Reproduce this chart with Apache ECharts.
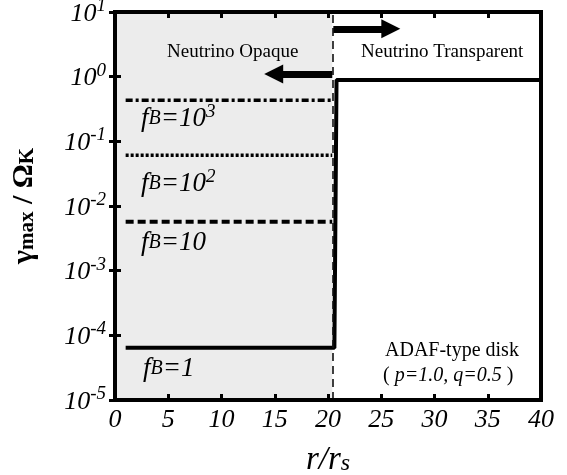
<!DOCTYPE html>
<html><head><meta charset="utf-8">
<script src="https://cdn.jsdelivr.net/npm/echarts@6/dist/echarts.min.js"></script>
<style>html,body{margin:0;padding:0;background:#fff}#c{width:567px;height:475px}</style>
</head><body><div id="c"></div>
<script>
// ---- data ----
const xTicks = [0, 5, 10, 15, 20, 25, 30, 35, 40];
const yExponents = [-5, -4, -3, -2, -1, 0, 1];
const fB1 = [[1.0, 6.4e-5], [20.6, 6.4e-5], [20.8, 0.89], [40, 0.89]];
const fB10 = [[1.0, 0.0057], [20.4, 0.0057]];
const fB100 = [[1.0, 0.061], [20.4, 0.061]];
const fB1000 = [[1.0, 0.43], [20.4, 0.43]];
const boundaryR = 20.4;
const arrowRight = [[20.5, 5.5], [25.9, 5.5]];
const arrowLeft = [[20.4, 1.1], [14.9, 1.1]];

const chart = echarts.init(document.getElementById('c'), null, {renderer: 'canvas'});
const serif = 'Liberation Serif';
const yLabel = v => { const e = Math.round(Math.log10(v)); return yExponents.includes(e) ? '{b|10}{s|' + e + '}' : ''; };
const yRich = {
  b: {fontFamily: serif, fontStyle: 'italic', fontSize: 26, color: '#000', padding: [4, 0, 0, 0]},
  s: {fontFamily: serif, fontStyle: 'italic', fontSize: 19, color: '#000', padding: [0, 0, 12, 0]}
};
const fbRich = {
  f: {fontFamily: serif, fontStyle: 'italic', fontSize: 27, color: '#000'},
  B: {fontFamily: serif, fontStyle: 'italic', fontSize: 20, color: '#000'},
  e: {fontFamily: serif, fontStyle: 'italic', fontSize: 27, color: '#000'},
  s: {fontFamily: serif, fontStyle: 'italic', fontSize: 19, color: '#000', padding: [0, 0, 14, 0]}
};
const frameAxis = {
  axisLine: {show: true, lineStyle: {color: '#000', width: 4}},
  axisTick: {inside: true, length: 6, lineStyle: {color: '#000', width: 3}},
  splitLine: {show: false}, z: 10
};

chart.setOption({
  animation: false,
  grid: {left: 115, right: 26, top: 12, bottom: 75, containLabel: false, outerBoundsMode: 'none',
    show: true, borderColor: '#000', borderWidth: 4, backgroundColor: 'transparent', z: 10},
  xAxis: [Object.assign({
    type: 'value', min: 0, max: 40, interval: 5,
    axisLabel: {margin: 7, fontFamily: serif, fontStyle: 'italic', fontSize: 26, color: '#000',
      formatter: v => xTicks.includes(v) ? String(v) : ''},
    name: '{a|r/r}{b|s}', nameLocation: 'middle', nameGap: 44,
    nameTextStyle: {rich: {
      a: {fontFamily: serif, fontStyle: 'italic', fontSize: 33, color: '#000'},
      b: {fontFamily: serif, fontStyle: 'italic', fontSize: 24, color: '#000', padding: [6, 0, 0, 0]}
    }}
  }, frameAxis), Object.assign({
    type: 'value', min: 0, max: 40, interval: 5, position: 'top', axisLabel: {show: false}
  }, frameAxis)],
  yAxis: [Object.assign({
    type: 'log', min: 1e-5, max: 10, logBase: 10,
    axisLabel: {margin: 9, formatter: yLabel, rich: yRich},
    minorTick: {show: false},
    name: '{g|γ}{m|max}{t| / Ω}{k|K}', nameLocation: 'middle', nameGap: 76, nameRotate: 90,
    nameTextStyle: {rich: {
      g: {fontFamily: serif, fontWeight: 'bold', fontSize: 30, color: '#000'},
      m: {fontFamily: serif, fontWeight: 'bold', fontSize: 21, color: '#000', padding: [8, 0, 0, 0]},
      t: {fontFamily: serif, fontWeight: 'bold', fontSize: 30, color: '#000'},
      k: {fontFamily: serif, fontWeight: 'bold', fontSize: 21, color: '#000', padding: [8, 0, 0, 0]}
    }}
  }, frameAxis), Object.assign({
    type: 'log', min: 1e-5, max: 10, logBase: 10, position: 'right', axisLabel: {show: false}
  }, frameAxis)],
  series: [
    {
      type: 'line', data: [], silent: true, yAxisIndex: 1,
      markArea: {silent: true, itemStyle: {color: '#ececec'}, data: [[{xAxis: 0}, {xAxis: boundaryR}]]},
      markLine: {silent: true, symbol: ['none', 'none'], label: {show: false},
        lineStyle: {color: '#111', width: 1.6, type: [8, 5]}, data: [{xAxis: boundaryR}]}
    },
    {type: 'line', data: fB1000, showSymbol: false, lineStyle: {color: '#000', width: 3.5, type: [7, 3, 3, 3]}, z: 3},
    {type: 'line', data: fB100, showSymbol: false, lineStyle: {color: '#000', width: 3.5, type: [3, 2]}, z: 3},
    {type: 'line', data: fB10, showSymbol: false, lineStyle: {color: '#000', width: 4, type: [8, 4]}, z: 3},
    {type: 'line', data: fB1, showSymbol: false, lineStyle: {color: '#000', width: 4}, z: 4},
    {
      type: 'lines', coordinateSystem: 'cartesian2d', z: 5,
      symbol: ['none', 'triangle'], symbolSize: 19,
      lineStyle: {color: '#000', width: 7, opacity: 1},
      data: [{coords: arrowRight}, {coords: arrowLeft}]
    }
  ],
  graphic: [
    {type: 'text', z: 100, left: 167, top: 43, style: {text: 'Neutrino Opaque', font: '19px "Liberation Serif"', fill: '#000'}},
    {type: 'text', z: 100, left: 361, top: 43, style: {text: 'Neutrino Transparent', font: '19px "Liberation Serif"', fill: '#000'}},
    {type: 'text', z: 100, left: 141, top: 102, style: {text: '{f|f}{B|B}{e|=10}{s|3}', rich: fbRich}},
    {type: 'text', z: 100, left: 141, top: 167, style: {text: '{f|f}{B|B}{e|=10}{s|2}', rich: fbRich}},
    {type: 'text', z: 100, left: 141, top: 229, style: {text: '{f|f}{B|B}{e|=10}', rich: fbRich}},
    {type: 'text', z: 100, left: 143, top: 355, style: {text: '{f|f}{B|B}{e|=1}', rich: fbRich}},
    {type: 'text', z: 100, left: 385, top: 341, style: {text: 'ADAF-type disk', font: '20px "Liberation Serif"', fill: '#000'}},
    {type: 'text', z: 100, left: 383, top: 366, style: {
      text: '{n|( }{i|p=1.0, q=0.5}{n| )}',
      rich: {n: {fontFamily: serif, fontSize: 20, color: '#000'}, i: {fontFamily: serif, fontStyle: 'italic', fontSize: 20, color: '#000'}}
    }}
  ]
});
</script></body></html>
